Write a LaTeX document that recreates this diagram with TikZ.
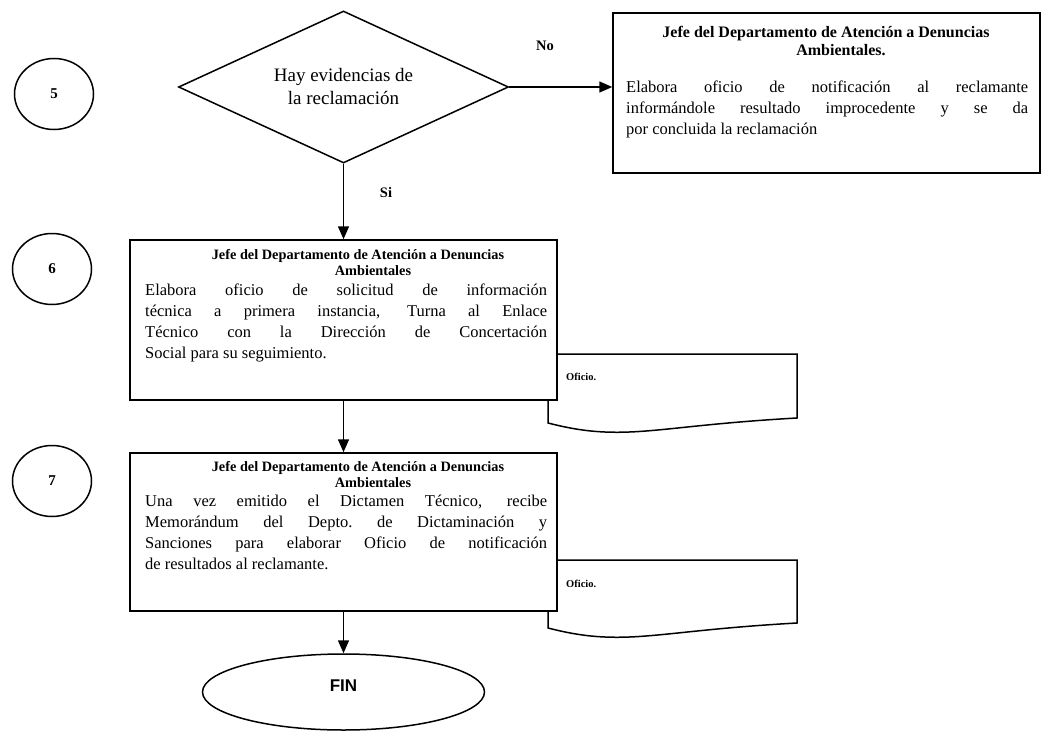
\documentclass[tikz,border=0pt]{standalone}
\usepackage{fontspec}
\setmainfont{Liberation Serif}
\newfontfamily\sansf{Liberation Sans}
\usetikzlibrary{shapes.geometric,arrows.meta,calc}
\newcommand{\jl}[1]{\makebox[402pt][s]{#1}}
\begin{document}
\begin{tikzpicture}[x=1pt,y=-1pt,
  conn/.style={line width=1.5pt,-{Triangle[length=13pt,width=11pt]}},
  procbox/.style={draw,line width=1.5pt,fill=white,rectangle,minimum width=427pt,inner sep=0pt},
  stepcirc/.style={draw,line width=1.5pt,ellipse,minimum width=79pt,minimum height=71pt,inner sep=0pt,font=\bfseries\fontsize{15}{17}\selectfont},
  ttl/.style={align=center,inner sep=0pt,anchor=north,font=\bfseries\fontsize{14.3}{16}\selectfont},
  bodytxt/.style={align=left,inner sep=0pt,anchor=north west,font=\fontsize{16.5}{21}\selectfont},
  lbl/.style={inner sep=0pt,font=\bfseries\fontsize{14.5}{16}\selectfont},
  docshape/.style={draw,line width=1.5pt,fill=white},
  doclbl/.style={inner sep=0pt,anchor=west,font=\bfseries\fontsize{10.5}{12}\selectfont}
]
\useasboundingbox (0,0) rectangle (1044,733);
\fill[white] (0,0) rectangle (1044,733);

% step circles
\node[stepcirc] (c5) at (54,94) {5};
\node[stepcirc] (c6) at (52,269) {6};
\node[stepcirc] (c7) at (52,481) {7};

% decision
\node[draw,line width=1.5pt,diamond,aspect=2.2,minimum width=330pt,minimum height=152pt,inner sep=0pt,align=center,font=\fontsize{19}{23}\selectfont] (dec) at (343.5,87) {Hay evidencias de\\la reclamación};

% right box
\node[procbox,minimum height=160pt] (rbox) at (826.5,93) {};
\node[ttl,font=\bfseries\fontsize{16}{18}\selectfont] (rt) at (826,26) {Jefe del Departamento de Atención a Denuncias\\\hspace*{30pt}Ambientales.};
\node[bodytxt] (rb) at (626,81) {\jl{Elabora oficio de notificación al reclamante}\\
\jl{informándole resultado improcedente y se da}\\
por concluida la reclamación};

% documents (drawn before the boxes, which partly cover them)
\draw[docshape] (548,354) -- (797,354) -- (797,418) .. controls (690,424) and (650,434) .. (605,432) .. controls (580,431) and (560,426) .. (548,423) -- cycle;
\node[doclbl] (o1) at (566,377) {Oficio.};
\draw[docshape] (548,560) -- (797,560) -- (797,623) .. controls (690,629) and (650,639) .. (605,637) .. controls (580,636) and (560,631) .. (548,628) -- cycle;
\node[doclbl] (o2) at (566,584) {Oficio.};

% box 6
\node[procbox,minimum height=160pt] (b6) at (343.5,320) {};
\node[ttl] (b6t) at (358,249) {Jefe del Departamento de Atención a Denuncias\\\hspace*{30pt}Ambientales};
\node[bodytxt] (b6b) at (145,284) {\jl{Elabora oficio de solicitud de información}\\
\jl{técnica a primera instancia, Turna al Enlace}\\
\jl{Técnico con la Dirección de Concertación}\\
Social para su seguimiento.};

% box 7
\node[procbox,minimum height=158pt] (b7) at (343.5,532) {};
\node[ttl] (b7t) at (358,461) {Jefe del Departamento de Atención a Denuncias\\\hspace*{30pt}Ambientales};
\node[bodytxt] (b7b) at (145,495) {\jl{Una vez emitido el Dictamen Técnico, recibe}\\
\jl{Memorándum del Depto.\ de Dictaminación y}\\
\jl{Sanciones para elaborar Oficio de notificación}\\
de resultados al reclamante.};

% end
\node[draw,line width=1.5pt,ellipse,minimum width=282pt,minimum height=76pt,inner sep=0pt] (fin) at (343.5,692) {};
\node[inner sep=0pt,font=\sansf\bfseries\fontsize{17}{19}\selectfont] (fint) at (343.5,686) {FIN};

% connectors
\draw[conn] (dec.east) -- (rbox.west |- dec.east);
\draw[conn] (dec) -- (b6);
\draw[conn] (b6) -- (b7);
\draw[conn] (b7) -- (fin);
\node[lbl] (no) at (545,46) {No};
\node[lbl] (si) at (386,193) {Si};
\end{tikzpicture}
\end{document}
